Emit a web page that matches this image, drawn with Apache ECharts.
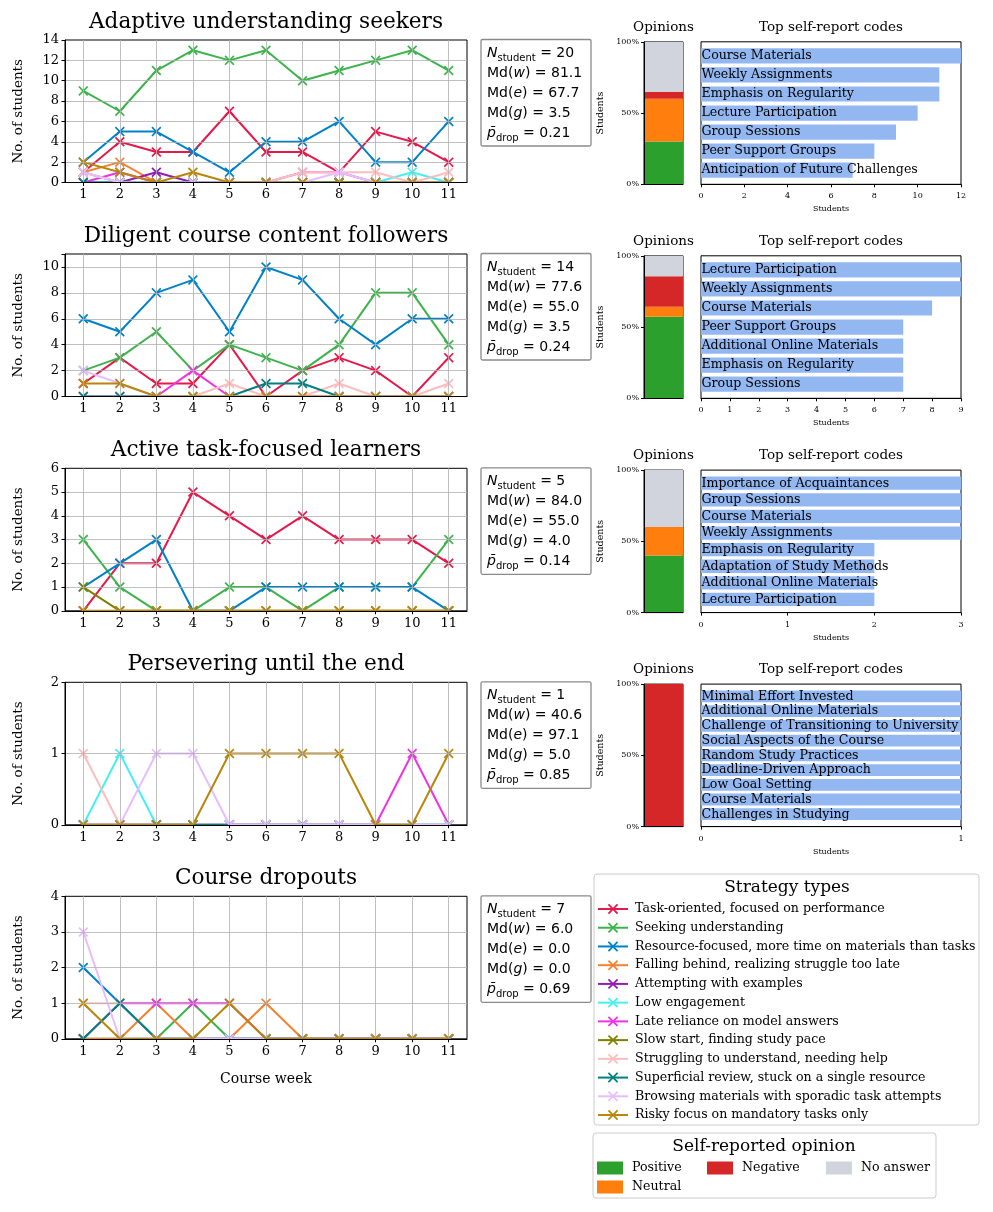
<!DOCTYPE html>
<html><head><meta charset="utf-8">
<script src="https://cdn.jsdelivr.net/npm/echarts/dist/echarts.min.js"></script>
<style>html,body{margin:0;padding:0;background:#fff}#c{width:993px;height:1212px}</style>
</head><body><div id="c"></div><script>
// ---------------- DATA ----------------
const weeks = ['1','2','3','4','5','6','7','8','9','10','11'];
const strategyNames = [
  'Task-oriented, focused on performance',
  'Seeking understanding',
  'Resource-focused, more time on materials than tasks',
  'Falling behind, realizing struggle too late',
  'Attempting with examples',
  'Low engagement',
  'Late reliance on model answers',
  'Slow start, finding study pace',
  'Struggling to understand, needing help',
  'Superficial review, stuck on a single resource',
  'Browsing materials with sporadic task attempts',
  'Risky focus on mandatory tasks only'
];
const strategyColors = ['#e6194b','#3cb44b','#0082c8','#f58231','#911eb4','#46f0f0','#f032e6','#808000','#fabebe','#008080','#e6beff','#b8860b'];
const clusterTitles = ['Adaptive understanding seekers','Diligent course content followers','Active task-focused learners','Persevering until the end','Course dropouts'];
const yMaxes = [14, 11, 6, 2, 4];
const yIntervals = [2, 2, 1, 1, 1];

// rows follow strategyNames order; null = strategy absent in cluster
const adaptiveCounts = [
  [1,4,3,3,7,3,3,1,5,4,2],
  [9,7,11,13,12,13,10,11,12,13,11],
  [2,5,5,3,1,4,4,6,2,2,6],
  [1,2,0,0,0,0,0,0,0,0,0],
  [0,0,1,0,0,0,0,0,0,0,0],
  [0,0,0,0,0,0,0,0,0,1,0],
  [0,1,0,0,0,0,1,1,0,0,0],
  [1,0,0,0,0,0,0,0,0,0,0],
  [1,0,0,0,0,0,1,1,1,0,1],
  [0,0,0,0,0,0,0,0,0,0,0],
  [1,0,0,0,0,0,0,1,0,0,0],
  [2,1,0,1,0,0,0,0,0,0,0]
];
const diligentCounts = [
  [1,3,1,1,4,0,2,3,2,0,3],
  [2,3,5,2,4,3,2,4,8,8,4],
  [6,5,8,9,5,10,9,6,4,6,6],
  null,
  null,
  null,
  [0,0,0,2,0,0,0,0,0,0,0],
  null,
  [0,0,0,0,1,0,0,1,0,0,1],
  [0,0,0,0,0,1,1,0,0,0,0],
  [2,1,0,0,0,0,0,0,0,0,0],
  [1,1,0,0,0,0,0,0,0,0,0]
];
const activeCounts = [
  [0,2,2,5,4,3,4,3,3,3,2],
  [3,1,0,0,1,1,0,1,1,1,3],
  [1,2,3,0,0,1,1,1,1,1,0],
  null, null, null, null,
  [1,0,0,0,0,0,0,0,0,0,0],
  null, null, null,
  [0,0,0,0,0,0,0,0,0,0,0]
];
const perseveringCounts = [
  null, null, null, null, null,
  [0,1,0,0,0,0,0,0,0,0,0],
  [0,0,0,0,0,0,0,0,0,1,0],
  null,
  [1,0,0,0,0,0,0,0,0,0,0],
  [0,0,0,0,0,0,0,0,0,0,0],
  [0,0,1,1,0,0,0,0,0,0,0],
  [0,0,0,0,1,1,1,1,0,0,1]
];
const dropoutCounts = [
  null,
  [0,0,0,1,0,0,0,0,0,0,0],
  [2,1,0,0,0,0,0,0,0,0,0],
  [0,0,1,0,0,1,0,0,0,0,0],
  null, null,
  [0,1,1,1,1,0,0,0,0,0,0],
  null,
  [1,1,0,0,0,0,0,0,0,0,0],
  [0,1,0,0,0,0,0,0,0,0,0],
  [3,0,0,0,0,0,0,0,0,0,0],
  [1,0,0,0,1,0,0,0,0,0,0]
];
const clusterCounts = [adaptiveCounts, diligentCounts, activeCounts, perseveringCounts, dropoutCounts];

const statsN = ['20','14','5','1','7'];
const statsMdW = ['81.1','77.6','84.0','40.6','6.0'];
const statsMdE = ['67.7','55.0','55.0','97.1','0.0'];
const statsMdG = ['3.5','3.5','4.0','5.0','0.0'];
const statsPDrop = ['0.21','0.24','0.14','0.85','0.69'];

const opinionNames = ['Positive','Neutral','Negative','No answer'];
const opinionColors = ['#2ca02c','#ff7f0e','#d62728','#d1d4dc'];
const opinionCounts = [[6,6,1,7],[8,1,3,2],[2,1,0,2],[0,0,1,0]];

const codeLabels1 = ['Course Materials','Weekly Assignments','Emphasis on Regularity','Lecture Participation','Group Sessions','Peer Support Groups','Anticipation of Future Challenges'];
const codeValues1 = [12,11,11,10,9,8,7];
const codeLabels2 = ['Lecture Participation','Weekly Assignments','Course Materials','Peer Support Groups','Additional Online Materials','Emphasis on Regularity','Group Sessions'];
const codeValues2 = [9,9,8,7,7,7,7];
const codeLabels3 = ['Importance of Acquaintances','Group Sessions','Course Materials','Weekly Assignments','Emphasis on Regularity','Adaptation of Study Methods','Additional Online Materials','Lecture Participation'];
const codeValues3 = [3,3,3,3,2,2,2,2];
const codeLabels4 = ['Minimal Effort Invested','Additional Online Materials','Challenge of Transitioning to University','Social Aspects of the Course','Random Study Practices','Deadline-Driven Approach','Low Goal Setting','Course Materials','Challenges in Studying'];
const codeValues4 = [1,1,1,1,1,1,1,1,1];
const codeLabels = [codeLabels1, codeLabels2, codeLabels3, codeLabels4];
const codeValues = [codeValues1, codeValues2, codeValues3, codeValues4];
const codeXMax = [12, 9, 3, 1];
const codeXInterval = [2, 1, 1, 1];

// ---------------- LAYOUT / STYLE ----------------
const SERIF = 'DejaVu Serif', SANS = 'DejaVu Sans';
const lineTops = [40, 254, 468.3, 682.3, 896.3];
const LINE_LEFT = 65, LINE_W = 402, LINE_H = 142.5;
const RIGHT_DY = 1.8, RIGHT_H = 142.5;
const OP_LEFT = 644, OP_W = 39;
const BAR_LEFT = 701, BAR_W = 260;
const X_PATH = 'path://M0,1.2L1.2,0L5,3.8L8.8,0L10,1.2L6.2,5L10,8.8L8.8,10L5,6.2L1.2,10L0,8.8L3.8,5Z';

const grids = [], xAxes = [], yAxes = [], series = [], graphic = [];

lineTops.forEach((top, p) => {
  grids.push({left: LINE_LEFT, top: top, width: LINE_W, height: LINE_H, show: true, borderColor: '#000', borderWidth: 1, backgroundColor: 'rgba(0,0,0,0)'});
  xAxes.push({
    gridIndex: p, type: 'category', data: weeks, boundaryGap: true, z: 5,
    axisLine: {show: true, lineStyle: {color: '#000', width: 1}},
    axisTick: {show: true, alignWithLabel: true, length: 3.5, lineStyle: {color: '#000', width: 1}},
    axisLabel: {color: '#000', fontFamily: SERIF, fontSize: 13, margin: 6},
    splitLine: {show: false},
    name: p === 4 ? 'Course week' : '', nameLocation: 'middle', nameGap: 34,
    nameTextStyle: {color: '#000', fontFamily: SERIF, fontSize: 14}
  });
  const itv = yIntervals[p];
  yAxes.push({
    gridIndex: p, type: 'value', min: 0, max: yMaxes[p], interval: itv, z: 5,
    axisLine: {show: true, lineStyle: {color: '#000', width: 1}},
    axisTick: {show: true, length: 3.5, lineStyle: {color: '#000', width: 1}},
    axisLabel: {color: '#000', fontFamily: SERIF, fontSize: 13, margin: 6,
      formatter: v => (Math.abs(v / itv - Math.round(v / itv)) < 1e-6 ? String(v) : '')},
    splitLine: {show: false},
    name: 'No. of students', nameLocation: 'middle', nameRotate: 90, nameGap: 40,
    nameTextStyle: {color: '#000', fontFamily: SERIF, fontSize: 13.5}
  });
  const gl = weeks.map(w => ({xAxis: w}));
  for (let v = itv; v < yMaxes[p]; v += itv) gl.push({yAxis: v});
  series.push({
    type: 'line', name: '_grid' + p, xAxisIndex: p, yAxisIndex: p, data: weeks.map(() => null),
    silent: true, z: 1, showSymbol: false, lineStyle: {opacity: 0},
    markLine: {silent: true, symbol: ['none', 'none'], label: {show: false}, animation: false,
      lineStyle: {color: '#b0b0b0', width: 0.8, type: 'solid'}, emphasis: {disabled: true}, data: gl}
  });
  clusterCounts[p].forEach((vals, s) => {
    if (!vals) return;
    series.push({
      type: 'line', name: strategyNames[s], xAxisIndex: p, yAxisIndex: p, data: vals,
      symbol: X_PATH, symbolSize: 10, showAllSymbol: true, z: 2 + s * 0.01,
      lineStyle: {color: strategyColors[s], width: 2},
      itemStyle: {color: strategyColors[s]},
      emphasis: {disabled: true}, silent: true, animation: false
    });
  });
  // clip the lower half of markers sitting on the x-axis like matplotlib does
  graphic.push({type: 'rect', z: 3, silent: true, shape: {x: LINE_LEFT + 0.6, y: top + LINE_H + 0.6, width: LINE_W - 1.2, height: 7}, style: {fill: '#fff'}});
  // title
  graphic.push({type: 'text', x: 266, y: top - 18, z: 10, style: {text: clusterTitles[p], fill: '#000', font: '21.6px "DejaVu Serif"', textAlign: 'center', align: 'center', textVerticalAlign: 'middle', verticalAlign: 'middle'}});
  // stats box
  graphic.push({type: 'rect', z: 10, shape: {x: 481, y: top - 0.5, width: 110, height: 106.5, r: 1.5}, style: {fill: '#fff', stroke: '#8a8a8a', lineWidth: 1.3}});
  const txt = [
    '{i|N}{s|student}{n| = ' + statsN[p] + '}',
    '{n|Md(}{i|w}{n|) = ' + statsMdW[p] + '}',
    '{n|Md(}{i|e}{n|) = ' + statsMdE[p] + '}',
    '{n|Md(}{i|g}{n|) = ' + statsMdG[p] + '}',
    '{i|p\u0304}{s|drop}{n| = ' + statsPDrop[p] + '}'
  ].join('\n');
  graphic.push({type: 'text', x: 487, y: top + 3, z: 11, style: {
    text: txt, fill: '#000', textAlign: 'left', align: 'left', textVerticalAlign: 'top', verticalAlign: 'top',
    rich: {
      n: {fontFamily: SANS, fontSize: 14, lineHeight: 20, fill: '#000', color: '#000'},
      i: {fontFamily: SANS, fontStyle: 'italic', fontSize: 14, lineHeight: 20, fill: '#000', color: '#000'},
      s: {fontFamily: SANS, fontSize: 10, lineHeight: 10, verticalAlign: 'bottom', fill: '#000', color: '#000'}
    }
  }});
});

// opinion + code panels
for (let q = 0; q < 4; q++) {
  const top = lineTops[q] + RIGHT_DY;
  const total = opinionCounts[q].reduce((a, b) => a + b, 0);
  const gOp = grids.length;
  grids.push({left: OP_LEFT, top: top, width: OP_W, height: RIGHT_H, show: true, borderColor: '#000', borderWidth: 1, backgroundColor: 'rgba(0,0,0,0)'});
  xAxes.push({gridIndex: gOp, type: 'category', data: ['op'], axisLine: {show: true, lineStyle: {color: '#000'}}, axisTick: {show: false}, axisLabel: {show: false}, splitLine: {show: false}, z: 5});
  yAxes.push({gridIndex: gOp, type: 'value', min: 0, max: 100, interval: 50, z: 5,
    axisLine: {show: true, lineStyle: {color: '#000'}},
    axisTick: {show: true, length: 3, lineStyle: {color: '#000'}},
    axisLabel: {color: '#000', fontFamily: SERIF, fontSize: 8, margin: 5, formatter: '{value}%'},
    splitLine: {show: false},
    name: 'Students', nameLocation: 'middle', nameRotate: 90, nameGap: 38,
    nameTextStyle: {color: '#000', fontFamily: SERIF, fontSize: 9.5}});
  opinionNames.forEach((nm, k) => {
    series.push({type: 'bar', name: nm, xAxisIndex: gOp, yAxisIndex: gOp, stack: 'op' + q, barWidth: '100%',
      data: [opinionCounts[q][k] / total * 100], itemStyle: {color: opinionColors[k]}, silent: true, z: 2, animation: false});
  });
  graphic.push({type: 'text', x: 663.5, y: top - 14.5, z: 10, style: {text: 'Opinions', fill: '#000', font: '13.5px "DejaVu Serif"', textAlign: 'center', align: 'center', textVerticalAlign: 'middle', verticalAlign: 'middle'}});
  graphic.push({type: 'text', x: 831, y: top - 14.5, z: 10, style: {text: 'Top self-report codes', fill: '#000', font: '13.5px "DejaVu Serif"', textAlign: 'center', align: 'center', textVerticalAlign: 'middle', verticalAlign: 'middle'}});

  // code bars: frame grid + inset grid matching matplotlib barh margins
  const n = codeLabels[q].length;
  const unit = RIGHT_H / ((n - 0.2) * 1.1);
  const innerH = n * unit, off = (RIGHT_H - innerH) / 2;
  const gF = grids.length;
  grids.push({left: BAR_LEFT, top: top, width: BAR_W, height: RIGHT_H, show: true, borderColor: '#000', borderWidth: 1, backgroundColor: 'rgba(0,0,0,0)'});
  xAxes.push({gridIndex: gF, type: 'value', min: 0, max: codeXMax[q], interval: codeXInterval[q], z: 5,
    axisLine: {show: true, lineStyle: {color: '#000'}},
    axisTick: {show: true, length: 3, lineStyle: {color: '#000'}},
    axisLabel: {color: '#000', fontFamily: SERIF, fontSize: 8, margin: 8},
    splitLine: {show: false},
    name: 'Students', nameLocation: 'middle', nameGap: 21,
    nameTextStyle: {color: '#000', fontFamily: SERIF, fontSize: 8}});
  yAxes.push({gridIndex: gF, type: 'value', min: 0, max: 1, show: false});
  const gI = grids.length;
  grids.push({left: BAR_LEFT, top: top + off, width: BAR_W, height: innerH, show: false});
  xAxes.push({gridIndex: gI, type: 'value', min: 0, max: codeXMax[q], show: false});
  yAxes.push({gridIndex: gI, type: 'category', data: codeLabels[q], inverse: true, show: false});
  series.push({type: 'bar', name: '_codes' + q, xAxisIndex: gI, yAxisIndex: gI, data: codeValues[q], barCategoryGap: '20%',
    itemStyle: {color: '#93b8f1'}, silent: true, z: 2, animation: false,
    label: {show: true, position: 'insideLeft', distance: 0.5, formatter: '{b}', color: '#000', fontFamily: SERIF, fontSize: 12.6}});
}

// legend boxes and titles
graphic.push({type: 'rect', z: 0, shape: {x: 594, y: 874, width: 385, height: 251, r: 3}, style: {fill: '#fff', stroke: '#cccccc', lineWidth: 1}});
graphic.push({type: 'text', x: 787, y: 888, z: 10, style: {text: 'Strategy types', fill: '#000', font: '17px "DejaVu Serif"', textAlign: 'center', align: 'center', textVerticalAlign: 'middle', verticalAlign: 'middle'}});
graphic.push({type: 'rect', z: 0, shape: {x: 593, y: 1133, width: 343, height: 65, r: 3}, style: {fill: '#fff', stroke: '#cccccc', lineWidth: 1}});
graphic.push({type: 'text', x: 764, y: 1147, z: 10, style: {text: 'Self-reported opinion', fill: '#000', font: '17px "DejaVu Serif"', textAlign: 'center', align: 'center', textVerticalAlign: 'middle', verticalAlign: 'middle'}});

const legTxt = {fontFamily: SERIF, fontSize: 12.6, color: '#000', padding: [0, 0, 0, 2]};
const legTxt2 = {fontFamily: SERIF, fontSize: 12.6, color: '#000', padding: [0, 0, 0, 4]};
const legends = [
  {orient: 'vertical', left: 597, top: 902.5, itemWidth: 30, itemHeight: 13, itemGap: 5.73, padding: 0, selectedMode: false, textStyle: legTxt, data: strategyNames, z: 10},
  {orient: 'vertical', left: 597, top: 1161.5, itemWidth: 26, itemHeight: 13, itemGap: 6, padding: 0, selectedMode: false, icon: 'rect', textStyle: legTxt2, data: ['Positive', 'Neutral'], z: 10},
  {orient: 'vertical', left: 707, top: 1161.5, itemWidth: 26, itemHeight: 13, itemGap: 6, padding: 0, selectedMode: false, icon: 'rect', textStyle: legTxt2, data: ['Negative'], z: 10},
  {orient: 'vertical', left: 826, top: 1161.5, itemWidth: 26, itemHeight: 13, itemGap: 6, padding: 0, selectedMode: false, icon: 'rect', textStyle: legTxt2, data: ['No answer'], z: 10}
];

const chart = echarts.init(document.getElementById('c'), null, {renderer: 'canvas'});
chart.setOption({
  animation: false, backgroundColor: '#fff',
  grid: grids, xAxis: xAxes, yAxis: yAxes, series: series, legend: legends, graphic: graphic,
  tooltip: {show: false}
});
</script></body></html>
